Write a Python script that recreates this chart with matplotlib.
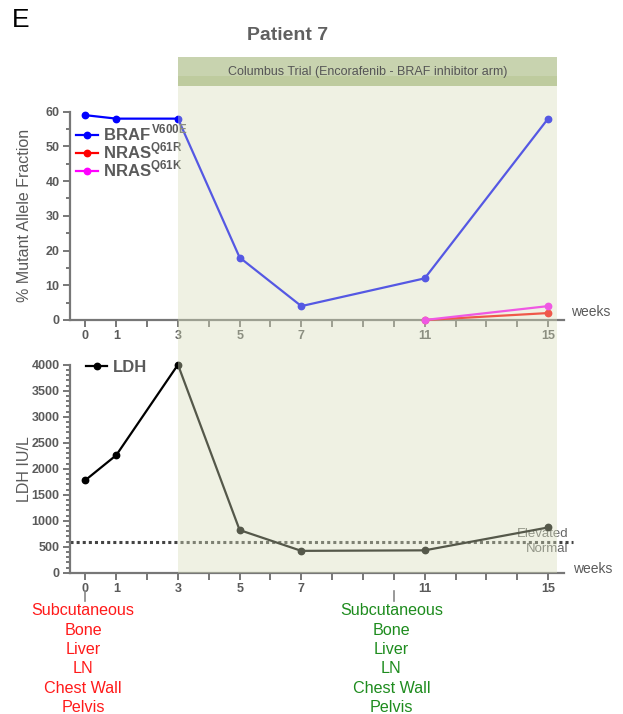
import matplotlib
matplotlib.use('Agg')
import matplotlib.pyplot as plt
from matplotlib.patches import Rectangle
from matplotlib.ticker import MultipleLocator
import matplotlib.transforms as mtransforms

plt.rcParams['font.family'] = ['Liberation Sans', 'DejaVu Sans']
plt.rcParams['mathtext.fontset'] = 'custom'
plt.rcParams['mathtext.rm'] = 'Liberation Sans'
plt.rcParams['mathtext.bf'] = 'Liberation Sans:bold'

# mutant allele fraction (%) per week
braf_weeks = [0, 1, 3, 5, 7, 11, 15]
braf_maf = [59, 58, 58, 18, 4, 12, 58]
nras_weeks = [11, 15]
nras_q61r = [0, 2]
nras_q61k = [0, 4]

# LDH (IU/L) per week
ldh_weeks = [0, 1, 3, 5, 7, 11, 15]
ldh_vals = [1780, 2260, 4000, 820, 420, 430, 870]
ldh_normal = 600

tick_weeks = list(range(16))
tick_labels = ['0', '1', '', '3', '', '5', '', '7', '', '', '', '11', '', '', '', '15']

sites = ['Subcutaneous', 'Bone', 'Liver', 'LN', 'Chest Wall', 'Pelvis']
scan_weeks = [0, 10]
trial_start, trial_end = 3, 15.3

W, H = 623, 714
fig = plt.figure(figsize=(W / 100, H / 100), dpi=100)

grey = '#5a5a5a'
tick_grey = '#777777'


def style_axis(ax):
    for s in ['top', 'right']:
        ax.spines[s].set_visible(False)
    for s in ['left', 'bottom']:
        ax.spines[s].set_color(tick_grey)
        ax.spines[s].set_linewidth(1.6)
    ax.tick_params(which='both', direction='out', color=tick_grey, width=1.4,
                   labelcolor=grey, labelsize=9, pad=2.5)
    ax.tick_params(which='major', length=5)
    ax.tick_params(which='minor', length=3)
    ax.set_xlim(-0.5, 15.5)
    ax.set_xticks(tick_weeks)
    ax.set_xticklabels(tick_labels, fontweight='bold')
    for lab in ax.get_yticklabels():
        lab.set_fontweight('bold')
    ax.yaxis.set_label_coords(-0.092, 0.5)
    ax.yaxis.label.set_va('center')
    ax.patch.set_alpha(0)


line_kw = dict(lw=1.6, marker='o', ms=4.6, clip_on=False, zorder=3)

# top panel: mutant allele fraction
ax1 = fig.add_axes([70 / W, 1 - 320 / H, 493.5 / W, 208.3 / H])
ax1.plot(braf_weeks, braf_maf, color='#0000ff',
         label=r'BRAF$^{\,\mathbf{V600E}}$', **line_kw)
ax1.plot(nras_weeks, nras_q61r, color='#ff0000',
         label=r'NRAS$^{\mathbf{Q61R}}$', **line_kw)
ax1.plot(nras_weeks, nras_q61k, color='#ff00ff',
         label=r'NRAS$^{\mathbf{Q61K}}$', **line_kw)
ax1.set_ylim(0, 60)
ax1.yaxis.set_major_locator(MultipleLocator(10))
ax1.yaxis.set_minor_locator(MultipleLocator(5))
ax1.set_ylabel('% Mutant Allele Fraction', color=grey, fontsize=11.5)
style_axis(ax1)
leg = ax1.legend(loc='upper left', bbox_to_anchor=(0.012, 0.947), frameon=False,
                 handlelength=1.3, handletextpad=0.35, labelspacing=-0.15,
                 borderaxespad=0, borderpad=0, prop={'weight': 'bold', 'size': 12})
for t in leg.get_texts():
    t.set_color(grey)
ax1.text(1.015, 0.04, 'weeks', transform=ax1.transAxes, color=grey,
         fontsize=10, ha='left', va='center')

# bottom panel: LDH
ax2 = fig.add_axes([70 / W, 1 - 572.7 / H, 493.5 / W, 208 / H])
ax2.plot(ldh_weeks, ldh_vals, color='black', label='LDH', **line_kw)
ax2.plot([-0.5, 15.8], [ldh_normal, ldh_normal], color='#444444', lw=2.2,
         linestyle=(0, (1, 1)), clip_on=False, zorder=2)
ax2.set_ylim(0, 4000)
ax2.yaxis.set_major_locator(MultipleLocator(500))
ax2.yaxis.set_minor_locator(MultipleLocator(100))
ax2.set_ylabel('LDH IU/L', color=grey, fontsize=11.5)
style_axis(ax2)
leg2 = ax2.legend(loc='upper left', bbox_to_anchor=(0.032, 1.025), frameon=False,
                  handlelength=1.3, handletextpad=0.35, borderaxespad=0,
                  borderpad=0, prop={'weight': 'bold', 'size': 12})
for t in leg2.get_texts():
    t.set_color(grey)
ax2.text(15.65, ldh_normal + 35, 'Elevated', color='#666666', fontsize=9.5,
         ha='right', va='bottom', zorder=1)
ax2.text(15.65, ldh_normal - 35, 'Normal', color='#666666', fontsize=9.5,
         ha='right', va='top', zorder=1)
ax2.text(1.02, 0.02, 'weeks', transform=ax2.transAxes, color=grey,
         fontsize=10, ha='left', va='center')

# scan sites below the time axis
blend = mtransforms.blended_transform_factory(ax2.transData, ax2.transAxes)
for wk, col in zip(scan_weeks, ['#ff1a1a', '#1e8c1e']):
    ax2.plot([wk, wk], [-0.088, -0.136], color='#888888', lw=1.2,
             transform=blend, clip_on=False)
    ax2.text(wk - 0.08, -0.148, '\n'.join(sites), transform=blend, color=col,
             fontsize=11.6, ha='center', va='top', linespacing=1.36)

# trial window shading across both panels
x0 = fig.transFigure.inverted().transform(ax1.transData.transform((trial_start, 0)))[0]
x1 = fig.transFigure.inverted().transform(ax1.transData.transform((trial_end, 0)))[0]
y_shade_bot = 1 - 572.7 / H
fig.add_artist(Rectangle((x0, y_shade_bot), x1 - x0, (572.7 - 76) / H,
                         transform=fig.transFigure, facecolor=(0.843, 0.871, 0.733),
                         alpha=0.4, edgecolor='none', zorder=10))
fig.add_artist(Rectangle((x0, 1 - 86 / H), x1 - x0, 29 / H,
                         transform=fig.transFigure, facecolor=(0.435, 0.549, 0.173),
                         alpha=0.375, edgecolor='none', zorder=11))
fig.text((x0 + x1) / 2, 1 - 72 / H, 'Columbus Trial (Encorafenib - BRAF inhibitor arm)',
         color='#555555', fontsize=9, ha='center', va='center', zorder=12)

fig.text(288 / W, 1 - 35 / H, 'Patient 7', color='#606060', fontsize=14,
         fontweight='bold', ha='center', va='center')
fig.text(12 / W, 1 - 20 / H, 'E', color='black', fontsize=19, ha='left', va='center')

fig.savefig('out.png', dpi=100)
